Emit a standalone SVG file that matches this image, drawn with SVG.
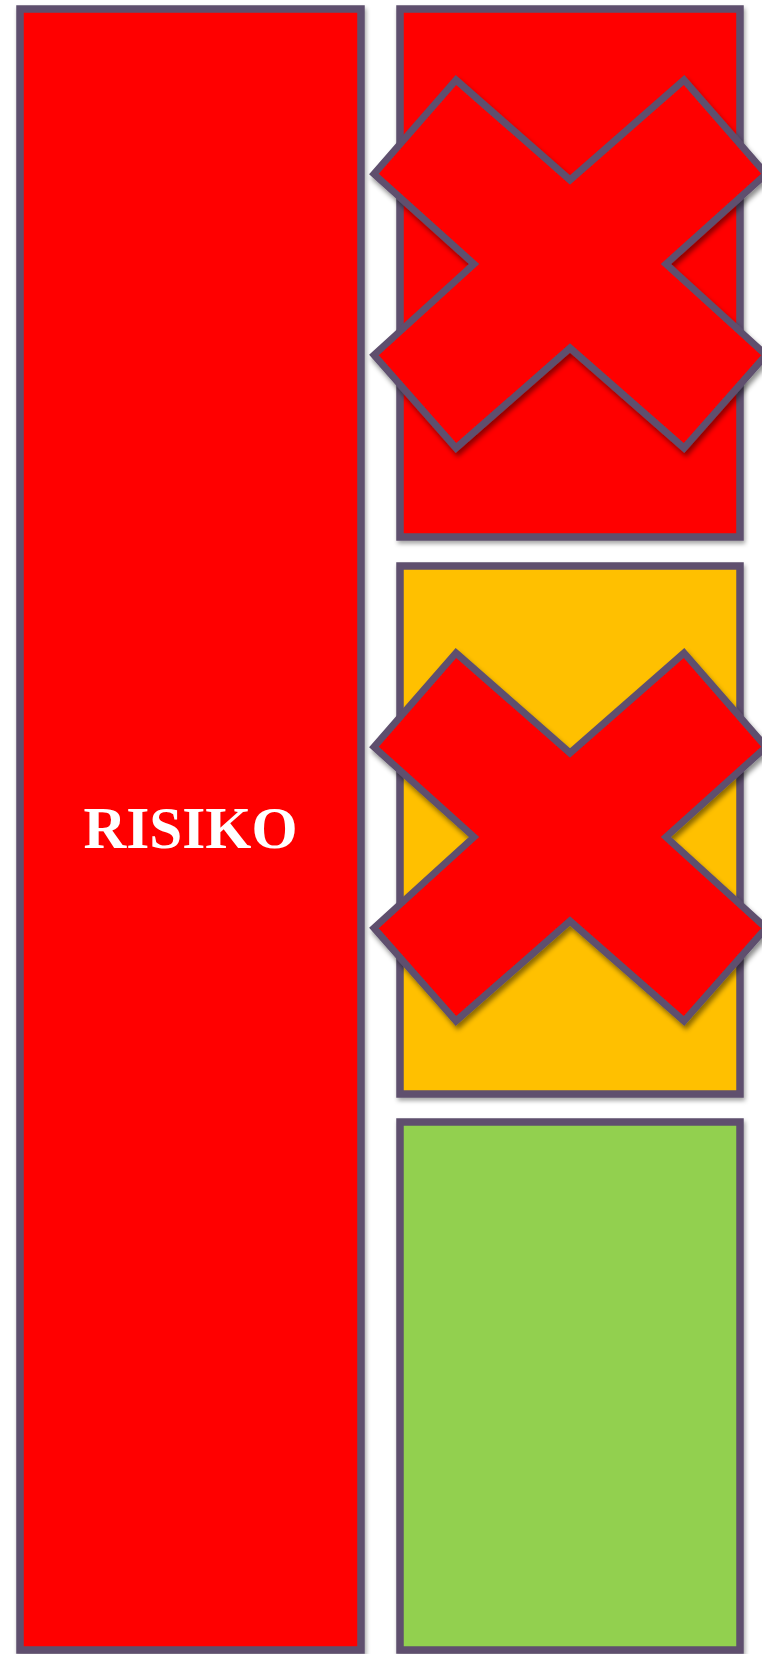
<svg xmlns="http://www.w3.org/2000/svg" width="762" height="1654" viewBox="0 0 762 1654">
<style>
.box{stroke:#5E506E;stroke-width:7.5;filter:url(#sh)}
.x{fill:#FF0000;stroke:#5E506E;stroke-width:7;stroke-linejoin:miter;filter:url(#shx)}
.lbl{font-family:"Liberation Serif","Times New Roman",serif;font-weight:bold;font-size:59px;fill:#FFFFFF}
</style>
<defs>
<filter id="sh" x="-10%" y="-10%" width="120%" height="120%">
<feDropShadow dx="1.5" dy="3" stdDeviation="2" flood-color="#000" flood-opacity="0.35"/>
</filter>
<filter id="shx" x="-10%" y="-10%" width="120%" height="120%">
<feDropShadow dx="2" dy="4" stdDeviation="2.5" flood-color="#000" flood-opacity="0.45"/>
</filter>
<polygon id="cross" points="456,80 570,180 684,80 766,174 666,264 766,355 684,448 570,348 456,448 374,355 474,264 374,174"/>
</defs>
<rect width="762" height="1654" fill="#FFFFFF"/>
<g id="risiko">
<rect class="box" x="20" y="9" width="341" height="1641" fill="#FF0000"/>
<text class="lbl" x="190.5" y="848" text-anchor="middle" textLength="214" lengthAdjust="spacingAndGlyphs">RISIKO</text>
</g>
<g id="box-red">
<rect class="box" x="400" y="9" width="340" height="528" fill="#FF0000"/>
</g>
<g id="box-yellow">
<rect class="box" x="400" y="566" width="340" height="528" fill="#FFC000"/>
</g>
<g id="box-green">
<rect class="box" x="400" y="1122" width="340" height="528" fill="#92D050"/>
</g>
<g id="cross-top">
<use href="#cross" class="x"/>
</g>
<g id="cross-middle">
<use href="#cross" class="x" transform="translate(0,573)"/>
</g>
</svg>
